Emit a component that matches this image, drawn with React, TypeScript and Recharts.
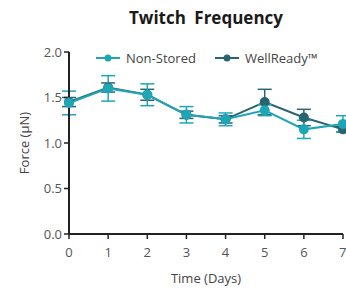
import { LineChart, Line, XAxis, YAxis, ErrorBar, Legend } from "recharts";

const days = [0, 1, 2, 3, 4, 5, 6, 7];
const nonStored = [1.44, 1.6, 1.53, 1.31, 1.26, 1.36, 1.15, 1.21];
const nonStoredErr = [0.13, 0.14, 0.12, 0.09, 0.07, 0.06, 0.1, 0.09];
const wellReady = [1.45, 1.61, 1.53, 1.31, 1.26, 1.45, 1.28, 1.15];
const wellReadyErr = [0.05, 0.05, 0.06, 0.04, 0.04, 0.14, 0.09, 0.03];
const yTicks = [0, 0.5, 1, 1.5, 2];

const NS_COLOR = "#1fa6b6";
const WR_COLOR = "#2a6470";
const FONT = "'Open Sans', sans-serif";

const data = days.map((d, i) => ({
  day: d,
  ns: nonStored[i],
  nsErr: nonStoredErr[i],
  wr: wellReady[i],
  wrErr: wellReadyErr[i],
}));

const tickStyle = { fill: "#555", fontSize: 13, fontFamily: FONT };

export default function App() {
  return (
    <div style={{ position: "relative", width: 346, height: 288, fontFamily: FONT }}>
      <style>{`body{margin:0}`}</style>
      <div
        style={{
          position: "absolute",
          top: 6,
          left: 0,
          width: 346,
          paddingLeft: 66,
          boxSizing: "border-box",
          textAlign: "center",
          fontWeight: 700,
          fontSize: 17,
          color: "#1a1a1a",
          wordSpacing: 4,
        }}
      >
        Twitch Frequency
      </div>
      <LineChart width={346} height={288} data={data} margin={{ top: 52, right: 3, bottom: 10, left: 0 }}>
        <XAxis
          dataKey="day"
          type="number"
          domain={[0, 7]}
          ticks={days}
          tick={tickStyle}
          tickLine={{ stroke: "#222", strokeWidth: 1.5 }}
          axisLine={{ stroke: "#222", strokeWidth: 2 }}
          tickSize={5}
          tickMargin={9}
          height={44}
          label={(p: any) => (
            <text
              x={p.viewBox.x + p.viewBox.width / 2}
              y={p.viewBox.y + 49}
              textAnchor="middle"
              fill="#444"
              fontSize={13}
              fontFamily={FONT}
            >
              Time (Days)
            </text>
          )}
        />
        <YAxis
          type="number"
          domain={[0, 2]}
          ticks={yTicks}
          tickFormatter={(v: number) => v.toFixed(1)}
          tick={tickStyle}
          tickLine={{ stroke: "#222", strokeWidth: 1.5 }}
          axisLine={{ stroke: "#222", strokeWidth: 2 }}
          tickSize={5}
          width={69}
          label={(p: any) => (
            <text
              x={29}
              y={p.viewBox.y + p.viewBox.height / 2}
              textAnchor="middle"
              fill="#444"
              fontSize={13}
              fontFamily={FONT}
              transform={`rotate(-90 29 ${p.viewBox.y + p.viewBox.height / 2})`}
            >
              Force (μN)
            </text>
          )}
        />
        <Legend
          layout="horizontal"
          verticalAlign="middle"
          align="center"
          wrapperStyle={{ top: 49, left: 96, width: "auto", fontSize: 13, fontFamily: FONT }}
          content={() => (
            <div style={{ display: "flex", gap: 19, fontSize: 13, color: "#444", fontFamily: FONT }}>
              {[
                { name: "Non-Stored", color: NS_COLOR },
                { name: "WellReady™", color: WR_COLOR },
              ].map((it) => (
                <div key={it.name} style={{ display: "flex", alignItems: "center", gap: 6 }}>
                  <svg width={24} height={10}>
                    <line x1={0} y1={5} x2={24} y2={5} stroke={it.color} strokeWidth={2} />
                    <circle cx={12} cy={5} r={3.5} fill={it.color} />
                  </svg>
                  <span>{it.name}</span>
                </div>
              ))}
            </div>
          )}
        />
        <Line
          dataKey="wr"
          name="WellReady™"
          stroke={WR_COLOR}
          strokeWidth={2}
          dot={{ r: 4, fill: WR_COLOR, stroke: WR_COLOR }}
          isAnimationActive={false}
        >
          <ErrorBar dataKey="wrErr" direction="y" width={7} stroke={WR_COLOR} strokeWidth={1.5} />
        </Line>
        <Line
          dataKey="ns"
          name="Non-Stored"
          stroke={NS_COLOR}
          strokeWidth={2}
          dot={{ r: 4, fill: NS_COLOR, stroke: NS_COLOR }}
          isAnimationActive={false}
        >
          <ErrorBar dataKey="nsErr" direction="y" width={7} stroke={NS_COLOR} strokeWidth={1.5} />
        </Line>
      </LineChart>
    </div>
  );
}
